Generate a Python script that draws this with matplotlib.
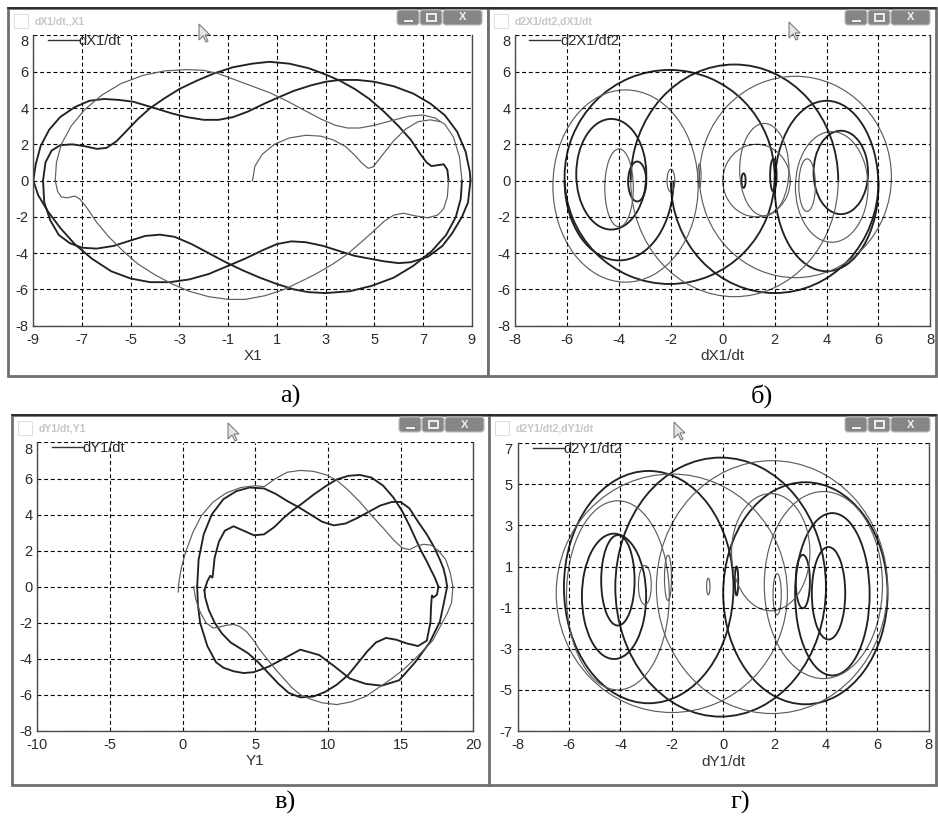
import numpy as np
import matplotlib.pyplot as plt
from matplotlib.patches import Rectangle, Arc, Polygon, FancyBboxPatch
from matplotlib.lines import Line2D
from matplotlib.colors import LinearSegmentedColormap

plt.rcParams['font.family'] = ['Liberation Sans', 'DejaVu Sans']

# ---------------- panel a: X1 / dX1/dt ----------------
a_start_x = [0.0, 0.1, 0.4, 0.9, 1.5, 2.2, 2.8, 3.3, 3.8, 4.2, 4.5, 4.75, 4.95, 5.3, 5.8, 6.3, 6.8, 7.3, 7.7]
a_start_y = [0.0, 0.8, 1.45, 2.0, 2.35, 2.5, 2.45, 2.25, 1.9, 1.4, 0.95, 0.68, 0.75, 1.35, 2.2, 2.85, 3.25, 3.35, 3.25]

a_t1_x = [-8.1, -8.05, -7.85, -7.45, -6.9, -6.2, -5.4, -4.5, -3.6, -2.7, -2.0, -1.4, -0.7, 0.0, 0.7, 1.4, 2.1,
          2.8, 3.4, 3.9, 4.4, 5.0, 5.7, 6.4, 7.0, 7.5, 7.9, 8.25, 8.5, 8.6]
a_t1_y = [0.0, 1.0, 2.0, 3.0, 3.9, 4.7, 5.35, 5.8, 6.05, 6.12, 6.08, 5.9, 5.55, 5.2, 4.85, 4.4, 3.9,
          3.4, 3.05, 2.9, 2.9, 3.05, 3.3, 3.55, 3.62, 3.45, 3.1, 2.4, 1.3, 0.0]
a_b3_x = [8.6, 8.55, 8.35, 7.95, 7.35, 6.6, 5.8, 4.9, 4.0, 3.0, 2.3, 1.7, 1.0, 0.3, -0.4, -1.1, -1.8, -2.5,
          -3.2, -3.8, -4.4, -5.0, -5.7, -6.4, -7.0, -7.5, -7.95, -8.3, -8.55, -8.6]
a_b3_y = [0.0, -1.0, -2.0, -3.0, -3.9, -4.7, -5.35, -5.8, -6.1, -6.2, -6.15, -6.0, -5.7, -5.35, -4.95, -4.5,
          -4.0, -3.5, -3.1, -2.98, -3.05, -3.3, -3.6, -3.75, -3.7, -3.45, -3.0, -2.2, -1.2, 0.0]
a_t2_x = [-8.6, -8.5, -8.25, -7.9, -7.4, -6.9, -6.4, -6.0, -5.6, -5.2, -4.7, -4.2, -3.6, -3.0, -2.3, -1.6, -0.8,
          0.0, 0.7, 1.5, 2.3, 3.0, 3.6, 4.2, 4.8, 5.4, 6.0, 6.5, 6.9, 7.15, 7.35, 7.6, 7.85, 8.0, 8.05]
a_t2_y = [0.0, 1.0, 1.65, 1.95, 2.0, 1.9, 1.75, 1.8, 2.15, 2.7, 3.4, 4.0, 4.55, 5.05, 5.5, 5.9, 6.25,
          6.45, 6.55, 6.45, 6.2, 5.85, 5.5, 5.05, 4.5, 3.8, 3.0, 2.25, 1.45, 1.0, 0.8, 0.85, 0.9, 0.6, 0.0]
a_b2_x = [8.05, 8.0, 7.85, 7.6, 7.2, 6.7, 6.2, 5.8, 5.4, 5.0, 4.5, 3.9, 3.3, 2.6, 2.0, 1.3, 0.5, -0.3, -1.0,
          -1.8, -2.6, -3.3, -4.0, -4.7, -5.3, -5.9, -6.4, -6.8, -7.1, -7.3, -7.6, -7.85, -8.0, -8.1]
a_b2_y = [0.0, -0.9, -1.55, -1.9, -2.05, -1.95, -1.8, -1.9, -2.25, -2.75, -3.35, -4.05, -4.6, -5.15, -5.55,
          -6.0, -6.35, -6.55, -6.55, -6.4, -6.1, -5.7, -5.2, -4.6, -3.9, -3.1, -2.3, -1.5, -1.0, -0.85, -0.95,
          -0.9, -0.6, 0.0]
a_t3_x = [-9.0, -8.9, -8.7, -8.35, -7.9, -7.3, -6.7, -6.1, -5.5, -4.9, -4.4, -3.9, -3.3, -2.7, -2.0, -1.4, -0.8,
          -0.2, 0.5, 1.0, 1.7, 2.4, 3.0, 3.6, 4.3, 5.0, 5.8, 6.6, 7.3, 7.9, 8.4, 8.75, 8.92, 8.95]
a_t3_y = [0.0, 0.9, 1.9, 2.8, 3.5, 4.05, 4.4, 4.5, 4.45, 4.35, 4.15, 3.95, 3.7, 3.5, 3.35, 3.35, 3.5,
          3.8, 4.25, 4.55, 4.95, 5.25, 5.45, 5.55, 5.55, 5.45, 5.2, 4.8, 4.25, 3.6, 2.7, 1.6, 0.5, 0.0]
a_b1_x = [8.95, 8.85, 8.6, 8.2, 7.8, 7.2, 6.5, 6.0, 5.4, 4.8, 4.2, 3.6, 2.9, 2.2, 1.6, 1.0, 0.4, -0.3, -1.0,
          -1.8, -2.6, -3.4, -4.2, -5.0, -5.8, -6.6, -7.3, -7.9, -8.4, -8.8, -9.0]
a_b1_y = [0.0, -1.2, -2.0, -2.9, -3.6, -4.2, -4.5, -4.55, -4.45, -4.3, -4.15, -3.9, -3.6, -3.4, -3.35, -3.5,
          -3.85, -4.3, -4.7, -5.15, -5.45, -5.6, -5.6, -5.4, -5.0, -4.3, -3.5, -2.6, -1.7, -0.8, 0.0]

# ---------------- panel c: Y1 / dY1/dt ----------------
c_start_x = [-0.3, -0.25, -0.1, 0.2, 0.7, 1.3, 2.1, 3.0, 4.0, 5.0, 5.6, 6.4, 7.2, 8.1, 9.0, 9.9, 10.6, 11.4,
             12.2, 13.0, 13.8, 14.5, 15.1, 15.6, 16.1, 16.6, 17.1, 17.6, 18.1, 18.4, 18.6]
c_start_y = [-0.3, 0.3, 1.0, 1.9, 3.0, 3.95, 4.7, 5.2, 5.5, 5.6, 5.55, 6.0, 6.35, 6.45, 6.4, 6.2, 5.9, 5.35,
             4.7, 3.95, 3.25, 2.6, 2.15, 2.05, 2.25, 2.35, 2.3, 2.0, 1.5, 0.8, 0.0]
c_b1_x = [18.6, 18.5, 18.2, 17.9, 17.2, 16.0, 15.2, 14.4, 13.5, 12.6, 11.6, 10.6, 9.6, 8.8, 8.1, 7.5, 6.95,
          6.4, 5.8, 5.3, 4.9, 4.4, 3.9, 3.5, 3.0, 2.5, 2.1, 1.6, 1.2, 0.9, 0.75]
c_b1_y = [0.0, -0.9, -1.5, -1.95, -3.0, -4.0, -4.6, -5.1, -5.6, -6.1, -6.4, -6.55, -6.45, -6.25, -6.0, -5.6,
          -5.1, -4.6, -4.0, -3.5, -3.0, -2.5, -2.2, -2.1, -2.15, -2.25, -2.3, -2.0, -1.4, -0.7, 0.0]
c_t1_x = [1.5, 1.7, 1.9, 2.05, 2.1, 2.2, 2.5, 2.9, 3.5, 4.2, 4.9, 5.6, 6.3, 7.0, 7.6, 8.2, 9.0, 9.8, 10.6,
          11.4, 12.2, 13.0, 13.8, 14.5, 15.1, 15.6, 16.0, 16.4, 16.8, 17.1, 17.35, 17.5, 17.6]
c_t1_y = [-0.2, 0.3, 0.6, 0.5, 0.8, 1.6, 2.5, 3.1, 3.35, 3.1, 2.85, 2.9, 3.3, 3.85, 4.25, 4.6, 5.1, 5.55, 5.95,
          6.15, 6.2, 6.05, 5.6, 4.95, 4.2, 3.4, 2.7, 2.0, 1.4, 0.9, 0.5, 0.2, 0.0]
c_b3_x = [17.6, 17.5, 17.25, 17.15, 17.1, 17.05, 16.8, 16.2, 15.4, 14.7, 14.0, 13.3, 12.7, 12.1, 11.4, 10.6,
          9.8, 9.0, 8.1, 7.3, 6.6, 5.9, 5.2, 4.5, 3.9, 3.3, 2.7, 2.2, 1.8, 1.55, 1.5]
c_b3_y = [0.0, -0.45, -0.6, -0.5, -1.0, -2.0, -3.0, -3.3, -3.15, -2.95, -2.85, -3.1, -3.6, -4.2, -4.9, -5.45,
          -5.85, -6.1, -6.15, -5.9, -5.4, -4.8, -4.2, -3.7, -3.4, -3.1, -2.6, -2.0, -1.3, -0.6, -0.2]
c_t2_x = [1.0, 1.1, 1.45, 2.0, 2.8, 3.7, 4.6, 5.6, 6.4, 7.2, 8.0, 8.8, 9.6, 10.4, 11.2, 12.0, 12.8, 13.6,
          14.4, 15.0, 15.6, 16.2, 16.8, 17.3, 17.7, 17.95, 18.1, 18.2]
c_t2_y = [0.0, 1.5, 2.9, 4.0, 4.85, 5.3, 5.5, 5.45, 5.15, 4.75, 4.4, 4.0, 3.6, 3.4, 3.5, 3.8, 4.15, 4.5,
          4.7, 4.7, 4.35, 3.6, 2.9, 2.2, 1.5, 1.0, 0.5, 0.0]
c_b2_x = [18.2, 18.0, 17.7, 17.0, 16.0, 14.9, 13.7, 12.6, 11.5, 10.4, 9.4, 8.1, 6.95, 5.9, 4.9, 4.2, 3.5,
          2.8, 2.3, 1.7, 1.2, 1.05, 1.0]
c_b2_y = [0.0, -0.8, -1.95, -3.1, -4.2, -5.2, -5.5, -5.4, -5.1, -4.4, -3.8, -3.5, -4.0, -4.45, -4.75, -4.8,
          -4.7, -4.5, -4.2, -3.3, -2.0, -1.0, 0.0]

# ---------------- panel b: dX1/dt / d2X1/dt2, loops read as ellipse arcs ----------------
# centre x, centre y, width, height, start angle, end angle
b_thick_cx = [-2.05, 2.0, 0.45, -4.0, 4.0, -4.3, 4.55, -3.3, 1.95, 0.8]
b_thick_cy = [0.2, -0.1, 0.0, 0.0, -0.3, 0.35, 0.45, -0.05, 0.3, 0.0]
b_thick_w = [8.1, 8.0, 8.0, 4.2, 4.0, 2.7, 2.1, 0.7, 0.25, 0.16]
b_thick_h = [11.8, 12.2, 12.8, 8.8, 9.4, 6.1, 4.6, 2.2, 1.8, 0.8]
b_thick_t1 = [0, 180, 0, 180, 0, 0, 0, 0, 0, 0]
b_thick_t2 = [360, 360, 180, 360, 360, 360, 360, 360, 360, 360]

b_thin_cx = [-3.75, 2.8, 0.45, -4.0, 4.2, 1.6, 1.3, -2.0, -0.9, 3.25]
b_thin_cy = [-0.3, 0.2, 0.0, -0.4, -0.35, 0.6, 0.0, 0.0, 0.27, -0.25]
b_thin_w = [5.6, 7.4, 8.0, 1.1, 2.8, 1.9, 2.6, 0.3, 0.12, 0.64]
b_thin_h = [10.6, 11.1, 12.8, 4.3, 6.1, 5.1, 4.0, 1.25, 1.3, 2.9]
b_thin_t1 = [0, -90, 180, 0, 0, 0, 0, 0, 0, 0]
b_thin_t2 = [360, 270, 360, 360, 360, 360, 360, 360, 360, 360]

# ---------------- panel d: dY1/dt / d2Y1/dt2 ----------------
d_thick_cx = [-2.9, 3.2, -0.1, -4.25, -4.1, 4.25, 4.1, 3.1, 0.52]
d_thick_cy = [0.0, -0.3, 0.0, -0.45, 0.33, -0.35, -0.3, 0.27, 0.3]
d_thick_w = [6.6, 6.4, 8.2, 2.5, 1.3, 2.9, 1.3, 0.55, 0.13]
d_thick_h = [11.3, 10.8, 12.6, 6.1, 4.4, 7.9, 4.5, 2.6, 1.4]

d_thin_cx = [-4.1, -2.0, 1.9, 3.9, 1.85, -3.05, -2.15, -0.58, 2.1]
d_thin_cy = [-0.4, -0.3, 0.0, 0.1, 1.7, 0.1, 0.45, 0.03, -0.35]
d_thin_w = [4.0, 9.0, 9.0, 4.6, 3.05, 0.5, 0.27, 0.13, 0.32]
d_thin_h = [9.2, 11.6, 12.3, 9.1, 5.7, 1.9, 2.2, 0.8, 2.0]

W, H = 938, 821
THICK = dict(color='#222222', lw=1.35)
THIN = dict(color='#5e5e5e', lw=0.85)

fig = plt.figure(figsize=(W / 100, H / 100), dpi=100)

# background layer in pixel coordinates: window frames and title bars
bg = fig.add_axes([0, 0, 1, 1], zorder=-1)
bg.set_axis_off()
bar_cmap = LinearSegmentedColormap.from_list('bar', ['#9c9c9c', '#7a7a7a', '#686868'])


def window(x0, y0, x1, y1, title):
    bg.add_patch(Rectangle((x0, y0), x1 - x0, y1 - y0, facecolor='white',
                           edgecolor='#707070', lw=2.0))
    grad = np.linspace(0, 1, 40).reshape(-1, 1)
    bg.imshow(grad, cmap=bar_cmap, aspect='auto', extent=[x0, x1, y0 + 25, y0])
    bg.plot([x0, x1], [y0, y0], color='#202020', lw=1.2)
    bg.add_patch(Rectangle((x0 + 6, y0 + 6), 14, 14, facecolor='white', edgecolor='#d0d0d0', lw=0.5))
    bg.text(x0 + 27, y0 + 13.5, title, color='#c6c6c6', fontsize=7.5, fontweight='bold', va='center')
    # caption buttons
    for bx0, bx1 in [(x1 - 91, x1 - 69), (x1 - 68, x1 - 46), (x1 - 45, x1 - 6)]:
        bg.add_patch(FancyBboxPatch((bx0, y0 + 2), bx1 - bx0, 15,
                                    boxstyle='round,pad=0,rounding_size=3',
                                    facecolor='#868686', edgecolor='#bdbdbd', lw=0.8))
    bg.add_patch(Rectangle((x1 - 85, y0 + 11), 10, 3, facecolor='#eeeeee', edgecolor='#555', lw=0.4))
    bg.add_patch(Rectangle((x1 - 61, y0 + 6), 9, 7, facecolor='none', edgecolor='#eeeeee', lw=1.4))
    bg.text(x1 - 25.5, y0 + 9.5, 'X', color='#f0f0f0', fontsize=8, fontweight='bold',
            ha='center', va='center')


window(8, 8, 488, 376, 'dX1/dt,,X1')
window(488, 8, 936, 376, 'd2X1/dt2,dX1/dt')
window(12, 415, 490, 785, 'dY1/dt,Y1')
window(489, 415, 936, 785, 'd2Y1/dt2,dY1/dt')
bg.set_xlim(0, W)
bg.set_ylim(H, 0)


def make_axes(x0, x1, y0, y1):
    return fig.add_axes([x0 / W, 1 - y1 / H, (x1 - x0) / W, (y1 - y0) / H], zorder=1)


def style(ax, xlim, ylim, xticks, yticks, xlabel, legend, lx):
    ax.set_xlim(*xlim)
    ax.set_ylim(*ylim)
    ax.set_xticks(xticks)
    ax.set_yticks(yticks)
    ax.set_xticklabels([str(t) for t in xticks])
    ax.set_yticklabels([str(t) for t in yticks])
    ax.get_yticklabels()[-1].set_va('top')
    ax.tick_params(length=0, labelsize=10.5, labelcolor='#2b2b2b')
    ax.tick_params(axis='y', pad=3.5)
    ax.tick_params(axis='x', pad=5)
    ax.grid(True, color='black', lw=0.8, ls=(0, (3.5, 2.5)))
    for s in ax.spines.values():
        s.set_color('#4a4a4a')
        s.set_linewidth(1.0)
    ax.spines['top'].set_visible(False)
    ax.set_xlabel(xlabel, fontsize=11, color='#333333', labelpad=2)
    ax.legend([Line2D([], [], color='#333333', lw=1.0)], [legend], loc='upper left',
              bbox_to_anchor=(lx, 1.005), frameon=False, handlelength=2.1, handletextpad=0.0,
              borderpad=0, borderaxespad=0, fontsize=10.5, labelcolor='#2b2b2b')


# panel a
ax_a = make_axes(33.3, 471.7, 35.5, 325.7)
for xs, ys in [(a_t2_x, a_t2_y), (a_t3_x, a_t3_y), (a_b1_x, a_b1_y), (a_b3_x, a_b3_y)]:
    ax_a.plot(xs, ys, **THICK)
for xs, ys in [(a_start_x, a_start_y), (a_t1_x, a_t1_y), (a_b2_x, a_b2_y)]:
    ax_a.plot(xs, ys, **THIN)
style(ax_a, (-9, 9), (-8, 8), list(range(-9, 10, 2)), list(range(-8, 9, 2)), 'X1', 'dX1/dt', 0.034)

# panel b
ax_b = make_axes(515.3, 930.3, 35.5, 325.7)
for cx, cy, w, h, t1, t2 in zip(b_thick_cx, b_thick_cy, b_thick_w, b_thick_h, b_thick_t1, b_thick_t2):
    ax_b.add_patch(Arc((cx, cy), w, h, theta1=t1, theta2=t2, **THICK))
for cx, cy, w, h, t1, t2 in zip(b_thin_cx, b_thin_cy, b_thin_w, b_thin_h, b_thin_t1, b_thin_t2):
    ax_b.add_patch(Arc((cx, cy), w, h, theta1=t1, theta2=t2, **THIN))
style(ax_b, (-8, 8), (-8, 8), list(range(-8, 9, 2)), list(range(-8, 9, 2)), 'dX1/dt', 'd2X1/dt2', 0.034)

# panel c
ax_c = make_axes(37.3, 473.3, 442.5, 730.7)
for xs, ys in [(c_t1_x, c_t1_y), (c_t2_x, c_t2_y), (c_b2_x, c_b2_y), (c_b3_x, c_b3_y)]:
    ax_c.plot(xs, ys, **THICK)
for xs, ys in [(c_start_x, c_start_y), (c_b1_x, c_b1_y)]:
    ax_c.plot(xs, ys, **THIN)
style(ax_c, (-10, 20), (-8, 8), list(range(-10, 21, 5)), list(range(-8, 9, 2)), 'Y1', 'dY1/dt', 0.034)

# panel d
ax_d = make_axes(517.7, 928.7, 443.2, 731.0)
for cx, cy, w, h in zip(d_thick_cx, d_thick_cy, d_thick_w, d_thick_h):
    ax_d.add_patch(Arc((cx, cy), w, h, **THICK))
for cx, cy, w, h in zip(d_thin_cx, d_thin_cy, d_thin_w, d_thin_h):
    ax_d.add_patch(Arc((cx, cy), w, h, **THIN))
style(ax_d, (-8, 8), (-7, 7), list(range(-8, 9, 2)), list(range(-7, 8, 2)), 'dY1/dt', 'd2Y1/dt2', 0.037)

# overlay: mouse cursors and captions
ov = fig.add_axes([0, 0, 1, 1], zorder=10)
ov.set_axis_off()
ov.patch.set_alpha(0)
arrow = np.array([[0, 0], [0, 16], [4, 12], [7, 18], [9, 17], [6, 11], [11, 11]])
for tx, ty in [(199, 24), (789, 22), (228, 423), (674, 422)]:
    ov.add_patch(Polygon(arrow + [tx, ty], closed=True, facecolor='#e4e4e4',
                         edgecolor='#707070', lw=0.8, alpha=0.9))
for cx, cy, label in [(290, 396, 'а)'), (762, 396, 'б)'), (285, 802, 'в)'), (740, 802, 'г)')]:
    ov.text(cx, cy, label, fontsize=19, family='Liberation Serif', ha='center', va='center')
ov.set_xlim(0, W)
ov.set_ylim(H, 0)

fig.savefig('out.png', dpi=100)
